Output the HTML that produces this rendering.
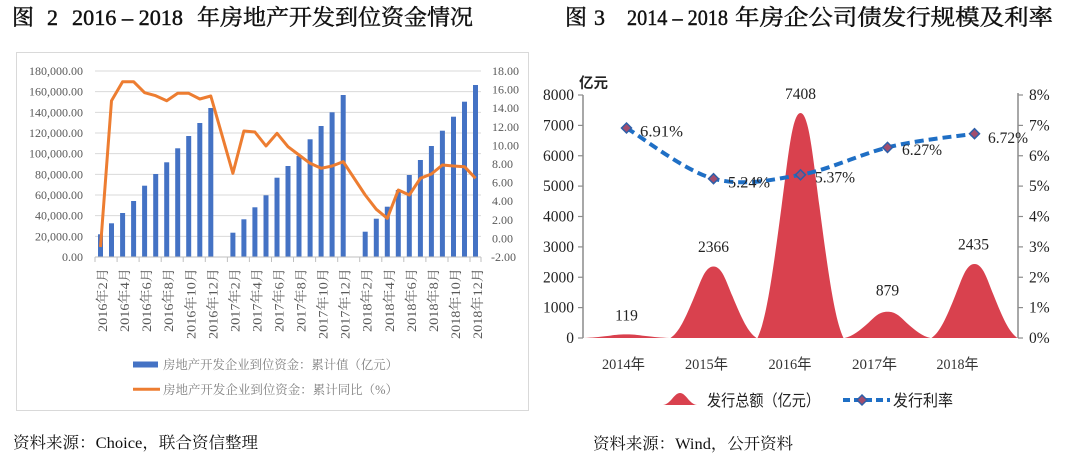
<!DOCTYPE html>
<html><head><meta charset="utf-8"><style>
html,body{margin:0;padding:0;background:#fff;}
svg{display:block;}
.s{font-family:"Liberation Serif","Noto Serif CJK SC",serif;}
.ss{font-family:"Liberation Sans","Noto Sans CJK SC",sans-serif;}
.sx{font-family:"Liberation Serif","Noto Sans CJK SC",sans-serif;}
</style></head><body>
<svg width="1080" height="459" viewBox="0 0 1080 459" xmlns="http://www.w3.org/2000/svg">
<rect width="1080" height="459" fill="#fff"/>
<!-- Titles -->
<g class="s" font-size="22" fill="#111" stroke="#111" stroke-width="0.45">
<text x="12" y="25">图</text>
<text x="47" y="25">2</text>
<text x="72" y="25" textLength="111" lengthAdjust="spacingAndGlyphs">2016 – 2018</text>
<text x="197" y="25" textLength="276" lengthAdjust="spacingAndGlyphs">年房地产开发到位资金情况</text>
<text x="565" y="25">图</text>
<text x="594" y="25">3</text>
<text x="627" y="25" textLength="101" lengthAdjust="spacingAndGlyphs">2014 – 2018</text>
<text x="735" y="25" textLength="318" lengthAdjust="spacingAndGlyphs">年房企公司债发行规模及利率</text>
</g>

<!-- LEFT CHART -->
<rect x="16.5" y="52.5" width="512" height="358" fill="none" stroke="#d9d9d9" stroke-width="1"/>
<g stroke="#d9d9d9" stroke-width="1">
<line x1="95" x2="481" y1="71" y2="71"/>
<line x1="95" x2="481" y1="91.67" y2="91.67"/>
<line x1="95" x2="481" y1="112.33" y2="112.33"/>
<line x1="95" x2="481" y1="133" y2="133"/>
<line x1="95" x2="481" y1="153.67" y2="153.67"/>
<line x1="95" x2="481" y1="174.33" y2="174.33"/>
<line x1="95" x2="481" y1="195" y2="195"/>
<line x1="95" x2="481" y1="215.67" y2="215.67"/>
<line x1="95" x2="481" y1="236.33" y2="236.33"/>
</g>
<g class="s" font-size="12" fill="#595959" text-anchor="end">
<text x="83" y="261">0.00</text>
<text x="83" y="240.3">20,000.00</text>
<text x="83" y="219.7">40,000.00</text>
<text x="83" y="199">60,000.00</text>
<text x="83" y="178.3">80,000.00</text>
<text x="83" y="157.7">100,000.00</text>
<text x="83" y="137">120,000.00</text>
<text x="83" y="116.3">140,000.00</text>
<text x="83" y="95.7">160,000.00</text>
<text x="83" y="75">180,000.00</text>
</g>
<g class="s" font-size="12" fill="#595959">
<text x="491" y="261">-2.00</text>
<text x="492" y="242.4">0.00</text>
<text x="492" y="223.8">2.00</text>
<text x="492" y="205.2">4.00</text>
<text x="492" y="186.6">6.00</text>
<text x="492" y="168">8.00</text>
<text x="492" y="149.4">10.00</text>
<text x="492" y="130.8">12.00</text>
<text x="492" y="112.2">14.00</text>
<text x="492" y="93.6">16.00</text>
<text x="492" y="75">18.00</text>
</g>
<!-- bars -->
<g fill="#4472C4">
<rect x="98" y="234.3" width="5" height="22.7"/>
<rect x="109" y="223.3" width="5" height="33.7"/>
<rect x="120.1" y="213" width="5" height="44"/>
<rect x="131.1" y="201" width="5" height="56"/>
<rect x="142.1" y="185.7" width="5" height="71.3"/>
<rect x="153.2" y="174" width="5" height="83"/>
<rect x="164.2" y="162.3" width="5" height="94.7"/>
<rect x="175.2" y="148.3" width="5" height="108.7"/>
<rect x="186.2" y="136" width="5" height="121"/>
<rect x="197.3" y="123" width="5" height="134"/>
<rect x="208.3" y="108" width="5" height="149"/>
<rect x="230.4" y="232.7" width="5" height="24.3"/>
<rect x="241.4" y="219.3" width="5" height="37.7"/>
<rect x="252.4" y="207.3" width="5" height="49.7"/>
<rect x="263.5" y="195.3" width="5" height="61.7"/>
<rect x="274.5" y="177.7" width="5" height="79.3"/>
<rect x="285.5" y="166" width="5" height="91"/>
<rect x="296.5" y="156" width="5" height="101"/>
<rect x="307.6" y="139.3" width="5" height="117.7"/>
<rect x="318.6" y="126" width="5" height="131"/>
<rect x="329.6" y="112.3" width="5" height="144.7"/>
<rect x="340.7" y="95" width="5" height="162"/>
<rect x="362.7" y="231.7" width="5" height="25.3"/>
<rect x="373.8" y="218.7" width="5" height="38.3"/>
<rect x="384.8" y="206.7" width="5" height="50.3"/>
<rect x="395.8" y="190" width="5" height="67"/>
<rect x="406.8" y="175" width="5" height="82"/>
<rect x="417.9" y="160" width="5" height="97"/>
<rect x="428.9" y="146" width="5" height="111"/>
<rect x="439.9" y="130.7" width="5" height="126.3"/>
<rect x="451" y="116.7" width="5" height="140.3"/>
<rect x="462" y="101.7" width="5" height="155.3"/>
<rect x="473" y="85" width="5" height="172"/>
</g>
<!-- axis -->
<line x1="95" x2="481" y1="257" y2="257" stroke="#bfbfbf" stroke-width="1"/>
<g stroke="#bfbfbf" stroke-width="1">
<line x1="95" x2="95" y1="257" y2="262"/><line x1="117.1" x2="117.1" y1="257" y2="262"/>
<line x1="139.1" x2="139.1" y1="257" y2="262"/><line x1="161.2" x2="161.2" y1="257" y2="262"/>
<line x1="183.2" x2="183.2" y1="257" y2="262"/><line x1="205.3" x2="205.3" y1="257" y2="262"/>
<line x1="227.4" x2="227.4" y1="257" y2="262"/><line x1="249.4" x2="249.4" y1="257" y2="262"/>
<line x1="271.5" x2="271.5" y1="257" y2="262"/><line x1="293.5" x2="293.5" y1="257" y2="262"/>
<line x1="315.6" x2="315.6" y1="257" y2="262"/><line x1="337.7" x2="337.7" y1="257" y2="262"/>
<line x1="359.7" x2="359.7" y1="257" y2="262"/><line x1="381.8" x2="381.8" y1="257" y2="262"/>
<line x1="403.8" x2="403.8" y1="257" y2="262"/><line x1="425.9" x2="425.9" y1="257" y2="262"/>
<line x1="448" x2="448" y1="257" y2="262"/><line x1="470" x2="470" y1="257" y2="262"/>
<line x1="481" x2="481" y1="257" y2="262"/>
</g>
<!-- line -->
<polyline fill="none" stroke="#ED7D31" stroke-width="3" stroke-linejoin="round" points="100.5,247 111.5,100.7 122.6,81.7 133.6,81.7 144.6,92.7 155.7,95.7 166.7,100.7 177.7,93.3 188.7,93.3 199.8,99 210.8,96 232.9,173.3 243.9,131 254.9,132 266,146 277,133.3 288,146.7 299,155 310.1,163.3 321.1,168.3 332.1,166 343.2,161.7 365.2,195 376.3,209.3 387.3,218.3 398.3,190 409.3,195 420.4,178.3 431.4,174 442.4,165 453.5,166 464.5,166.7 475.5,178.3"/>
<!-- x labels -->
<g class="s" font-size="13" fill="#595959" text-anchor="end">
<text transform="translate(107,268) rotate(-90)" textLength="64" lengthAdjust="spacingAndGlyphs">2016年2月</text>
<text transform="translate(129.1,268) rotate(-90)" textLength="64" lengthAdjust="spacingAndGlyphs">2016年4月</text>
<text transform="translate(151.1,268) rotate(-90)" textLength="64" lengthAdjust="spacingAndGlyphs">2016年6月</text>
<text transform="translate(173.2,268) rotate(-90)" textLength="64" lengthAdjust="spacingAndGlyphs">2016年8月</text>
<text transform="translate(195.3,268) rotate(-90)" textLength="71" lengthAdjust="spacingAndGlyphs">2016年10月</text>
<text transform="translate(217.3,268) rotate(-90)" textLength="71" lengthAdjust="spacingAndGlyphs">2016年12月</text>
<text transform="translate(239.4,268) rotate(-90)" textLength="64" lengthAdjust="spacingAndGlyphs">2017年2月</text>
<text transform="translate(261.4,268) rotate(-90)" textLength="64" lengthAdjust="spacingAndGlyphs">2017年4月</text>
<text transform="translate(283.5,268) rotate(-90)" textLength="64" lengthAdjust="spacingAndGlyphs">2017年6月</text>
<text transform="translate(305.5,268) rotate(-90)" textLength="64" lengthAdjust="spacingAndGlyphs">2017年8月</text>
<text transform="translate(327.6,268) rotate(-90)" textLength="71" lengthAdjust="spacingAndGlyphs">2017年10月</text>
<text transform="translate(349.7,268) rotate(-90)" textLength="71" lengthAdjust="spacingAndGlyphs">2017年12月</text>
<text transform="translate(371.7,268) rotate(-90)" textLength="64" lengthAdjust="spacingAndGlyphs">2018年2月</text>
<text transform="translate(393.8,268) rotate(-90)" textLength="64" lengthAdjust="spacingAndGlyphs">2018年4月</text>
<text transform="translate(415.8,268) rotate(-90)" textLength="64" lengthAdjust="spacingAndGlyphs">2018年6月</text>
<text transform="translate(437.9,268) rotate(-90)" textLength="64" lengthAdjust="spacingAndGlyphs">2018年8月</text>
<text transform="translate(460,268) rotate(-90)" textLength="71" lengthAdjust="spacingAndGlyphs">2018年10月</text>
<text transform="translate(482,268) rotate(-90)" textLength="71" lengthAdjust="spacingAndGlyphs">2018年12月</text>
</g>
<!-- legend -->
<rect x="133" y="361.5" width="25" height="6" fill="#4472C4"/>
<text class="s" x="163" y="369" font-size="12.4" fill="#7f7f7f" textLength="235" lengthAdjust="spacingAndGlyphs">房地产开发企业到位资金：累计值（亿元）</text>
<line x1="133" x2="160" y1="389.3" y2="389.3" stroke="#ED7D31" stroke-width="3"/>
<text class="s" x="163" y="394" font-size="12.4" fill="#7f7f7f" textLength="235" lengthAdjust="spacingAndGlyphs">房地产开发企业到位资金：累计同比（%）</text>

<!-- sources -->
<text class="s" x="13" y="448" font-size="16" fill="#111" textLength="245" lengthAdjust="spacingAndGlyphs">资料来源：Choice，联合资信整理</text>
<text class="s" x="593" y="449" font-size="16" fill="#111" textLength="200" lengthAdjust="spacingAndGlyphs">资料来源：Wind，公开资料</text>

<!-- RIGHT CHART -->
<!-- peaks -->
<g fill="#D9414E">
<path d="M583.5,338 C592.5,337.7 598,337 608.5,335.9 C614,335.1 618,334.4 626.5,334.4 C635,334.4 639,335.1 644.5,335.9 C655,337 660.5,337.7 669.5,338 Z"/>
<path d="M670.5,338 C679,332.3 685,319.3 694.5,296.3 C701,281 705,266.5 713.5,266.5 C722,266.5 726,281 732.5,296.3 C742,319.3 748,332.3 756.5,338 Z"/>
<path d="M757.5,338 C766,320 772,279.3 781.5,206.8 C788,158.5 792,113 800.5,113 C809,113 813,158.5 819.5,206.8 C829,279.3 835,320 843.5,338 Z"/>
<path d="M844.5,338 C853,335.9 859,331.1 868.5,322.7 C875,316.6 879,311.7 887.5,311.7 C896,311.7 900,316.6 906.5,322.7 C916,331.1 922,335.9 930.5,338 Z"/>
<path d="M931.5,338 C940,332.1 946,318.7 955.5,294.9 C962,279 966,264 974.5,264 C983,264 987,279 993.5,294.9 C1003,318.7 1009,332.1 1017.5,338 Z"/>
</g>
<!-- axes -->
<g stroke="#8c8c8c" stroke-width="1.5" fill="none">
<line x1="583" x2="583" y1="95" y2="338"/>
<line x1="1018" x2="1018" y1="93" y2="338"/>
</g>
<g stroke="#8c8c8c" stroke-width="1.2">
<line x1="578" x2="583" y1="338" y2="338"/><line x1="578" x2="583" y1="307.6" y2="307.6"/>
<line x1="578" x2="583" y1="277.25" y2="277.25"/><line x1="578" x2="583" y1="246.9" y2="246.9"/>
<line x1="578" x2="583" y1="216.5" y2="216.5"/><line x1="578" x2="583" y1="186.1" y2="186.1"/>
<line x1="578" x2="583" y1="155.75" y2="155.75"/><line x1="578" x2="583" y1="125.4" y2="125.4"/>
<line x1="578" x2="583" y1="95" y2="95"/>
<line x1="1018" x2="1023" y1="338" y2="338"/><line x1="1018" x2="1023" y1="307.6" y2="307.6"/>
<line x1="1018" x2="1023" y1="277.25" y2="277.25"/><line x1="1018" x2="1023" y1="246.9" y2="246.9"/>
<line x1="1018" x2="1023" y1="216.5" y2="216.5"/><line x1="1018" x2="1023" y1="186.1" y2="186.1"/>
<line x1="1018" x2="1023" y1="155.75" y2="155.75"/><line x1="1018" x2="1023" y1="125.4" y2="125.4"/>
<line x1="1018" x2="1023" y1="95" y2="95"/>
</g>
<g class="s" font-size="15.5" fill="#222" text-anchor="end">
<text x="574" y="343">0</text>
<text x="574" y="312.6">1000</text>
<text x="574" y="282.3">2000</text>
<text x="574" y="251.9">3000</text>
<text x="574" y="221.5">4000</text>
<text x="574" y="191.1">5000</text>
<text x="574" y="160.8">6000</text>
<text x="574" y="130.4">7000</text>
<text x="574" y="100">8000</text>
</g>
<g class="s" font-size="15.5" fill="#222">
<text x="1029" y="343">0%</text>
<text x="1029" y="312.6">1%</text>
<text x="1029" y="282.3">2%</text>
<text x="1029" y="251.9">3%</text>
<text x="1029" y="221.5">4%</text>
<text x="1029" y="191.1">5%</text>
<text x="1029" y="160.8">6%</text>
<text x="1029" y="130.4">7%</text>
<text x="1029" y="100">8%</text>
</g>
<text class="ss" x="579" y="88" font-size="14.5" font-weight="bold" fill="#222">亿元</text>
<!-- value labels -->
<g class="s" font-size="15.5" fill="#222" text-anchor="middle">
<text x="626.5" y="320.5">119</text>
<text x="713.5" y="252">2366</text>
<text x="800.5" y="99">7408</text>
<text x="887.5" y="295.5">879</text>
<text x="973.5" y="249.5">2435</text>
</g>
<!-- rate line -->
<path d="M626.5,128 C641,136.45 684.5,170.9 713.5,178.7 C742.5,186.5 771.5,180 800.5,174.8 C829.5,169.6 858.5,154.9 887.5,147.4 C916.5,140 960,136 974.5,133.7" fill="none" stroke="#1F6FC5" stroke-width="4" stroke-dasharray="9 5"/>
<g fill="#A24D6E" stroke="#2E5FA8" stroke-width="1.5">
<path d="M626.5,123 L631.5,128 L626.5,133 L621.5,128 Z"/>
<path d="M713.5,173.7 L718.5,178.7 L713.5,183.7 L708.5,178.7 Z"/>
<path d="M800.5,169.8 L805.5,174.8 L800.5,179.8 L795.5,174.8 Z"/>
<path d="M887.5,142.4 L892.5,147.4 L887.5,152.4 L882.5,147.4 Z"/>
<path d="M974.5,128.7 L979.5,133.7 L974.5,138.7 L969.5,133.7 Z"/>
</g>
<g class="s" font-size="16" fill="#222">
<text x="640" y="136.5" textLength="43" lengthAdjust="spacingAndGlyphs">6.91%</text>
<text x="728" y="187.5" textLength="42" lengthAdjust="spacingAndGlyphs">5.24%</text>
<text x="815" y="182.5" textLength="40" lengthAdjust="spacingAndGlyphs">5.37%</text>
<text x="902" y="155" textLength="40" lengthAdjust="spacingAndGlyphs">6.27%</text>
<text x="988" y="143" textLength="40" lengthAdjust="spacingAndGlyphs">6.72%</text>
</g>
<!-- x labels -->
<g class="sx" font-size="15" fill="#333" text-anchor="middle">
<text x="623.5" y="369" textLength="43" lengthAdjust="spacingAndGlyphs">2014年</text>
<text x="706.5" y="369" textLength="43" lengthAdjust="spacingAndGlyphs">2015年</text>
<text x="790" y="369" textLength="43" lengthAdjust="spacingAndGlyphs">2016年</text>
<text x="874.5" y="369" textLength="45" lengthAdjust="spacingAndGlyphs">2017年</text>
<text x="957.5" y="369" textLength="42" lengthAdjust="spacingAndGlyphs">2018年</text>
</g>
<!-- legend -->
<path d="M663,405 C671,404 674,393 680,393 C686,393 689,404 697,405 Z" fill="#D9414E"/>
<text class="ss" x="707" y="406" font-size="16" fill="#222" textLength="113" lengthAdjust="spacingAndGlyphs">发行总额（亿元）</text>
<line x1="843" x2="890" y1="400" y2="400" stroke="#1F6FC5" stroke-width="4" stroke-dasharray="7 4"/>
<path d="M862,395 L867,400 L862,405 L857,400 Z" fill="#A24D6E" stroke="#2E5FA8" stroke-width="1.5"/>
<text class="ss" x="893" y="406" font-size="16" fill="#222" textLength="60" lengthAdjust="spacingAndGlyphs">发行利率</text>
</svg>
</body></html>
